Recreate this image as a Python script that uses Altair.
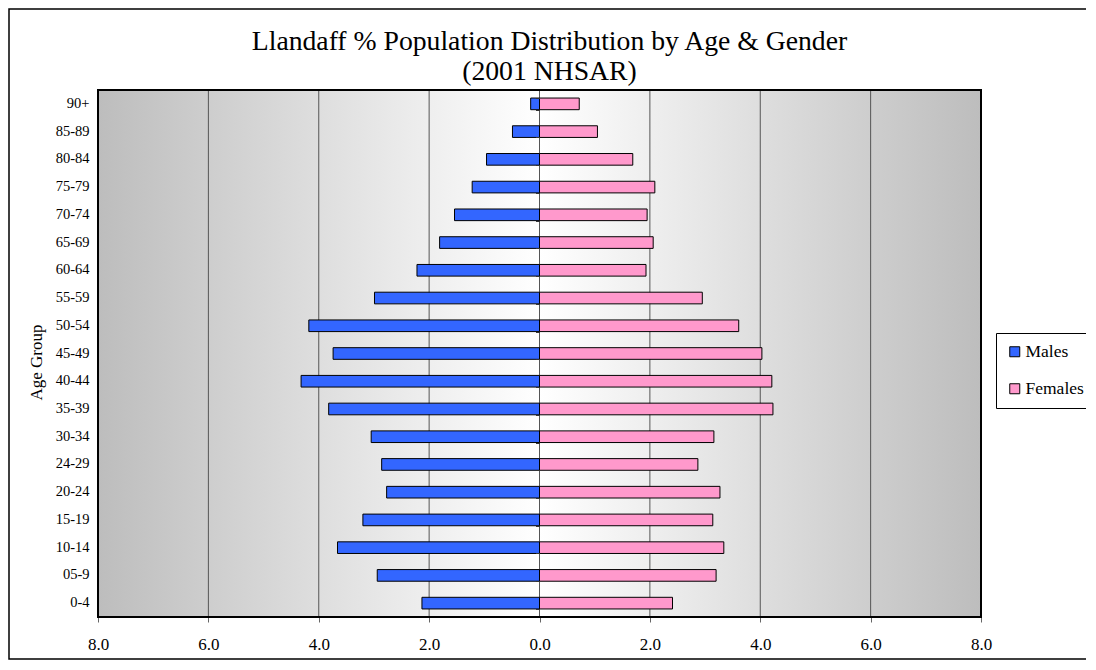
import altair as alt
import pandas as pd

# ---- data ----
age_groups = ["0-4", "05-9", "10-14", "15-19", "20-24", "24-29", "30-34", "35-39",
              "40-44", "45-49", "50-54", "55-59", "60-64", "65-69", "70-74", "75-79",
              "80-84", "85-89", "90+"]
males = [2.13, 2.94, 3.66, 3.20, 2.77, 2.86, 3.05, 3.82, 4.32, 3.74,
         4.18, 2.99, 2.22, 1.81, 1.54, 1.22, 0.96, 0.49, 0.16]
females = [2.41, 3.20, 3.34, 3.14, 3.27, 2.87, 3.16, 4.23, 4.21, 4.03,
           3.61, 2.95, 1.93, 2.06, 1.95, 2.09, 1.69, 1.05, 0.72]
series = ["Males", "Females"]
series_colors = ["#3366ff", "#ff99cc"]
x_ticks = [-8, -6, -4, -2, 0, 2, 4, 6, 8]
grid_values = [-6, -4, -2, 0, 2, 4, 6]
title_line1 = "Llandaff % Population Distribution by Age & Gender"
title_line2 = "(2001 NHSAR)"

FONT = "Liberation Serif"
W, H = 883, 527

rows = []
for a, m, f in zip(age_groups, males, females):
    rows.append({"age": a, "sex": "Males", "value": -m})
    rows.append({"age": a, "sex": "Females", "value": f})
df = pd.DataFrame(rows)
one = pd.DataFrame({"k": [0]})
grid_df = pd.DataFrame({"value": grid_values})

x_scale = alt.Scale(domain=[-8, 8], nice=False, zero=False)
y_scale = alt.Scale(domain=list(reversed(age_groups)), paddingInner=0.58, paddingOuter=0.29)
x_axis = alt.Axis(values=x_ticks,
                  labelExpr="format(abs(datum.value), '.1f')",
                  grid=False, domain=False, tickColor="#666666",
                  tickSize=5, labelPadding=14, labelFont=FONT,
                  labelFontSize=17, labelColor="black", title=None,
                  labelFlush=False, labelOverlap=False)

# gradient background of the plot area
bg = alt.Chart(one).mark_rect(
    fill=alt.LinearGradient(
        gradient="linear",
        stops=[alt.GradientStop(color="#bdbdbd", offset=0),
               alt.GradientStop(color="#ffffff", offset=0.5),
               alt.GradientStop(color="#bdbdbd", offset=1)],
        x1=0, x2=1, y1=0, y2=0),
    strokeWidth=0,
).encode(x=alt.value(0), x2=alt.value(W), y=alt.value(0), y2=alt.value(H))

grid = alt.Chart(grid_df).mark_rule(color="#555555", strokeWidth=1).encode(
    x=alt.X("value:Q", scale=x_scale, axis=x_axis)
)

bars = alt.Chart(df).mark_bar(stroke="black", strokeWidth=1).encode(
    x=alt.X("value:Q", scale=x_scale, axis=x_axis),
    y=alt.Y("age:N", scale=y_scale, sort=list(reversed(age_groups)),
            axis=alt.Axis(title="Age Group", ticks=False, tickSize=0, domain=False,
                          labelPadding=9, labelFont=FONT, labelFontSize=14.5,
                          labelColor="black", titleFont=FONT, titleFontSize=17,
                          titleFontWeight="normal", titleColor="black",
                          titleAngle=270, titleAlign="center", titleBaseline="middle",
                          titleX=-62, titleY=272)),
    color=alt.Color("sex:N", scale=alt.Scale(domain=series, range=series_colors),
                    legend=alt.Legend(orient="none", legendX=898, legendY=243,
                                      title=None, symbolType="square", symbolSize=100,
                                      symbolStrokeColor="black", symbolStrokeWidth=1,
                                      labelFont=FONT, labelFontSize=17.5,
                                      labelColor="black", padding=10,
                                      strokeColor="black", fillColor="white",
                                      rowPadding=18, symbolOffset=0, labelOffset=2)),
)

ticks_axis = alt.Chart(df).mark_bar(opacity=0).encode(
    x=alt.X("value:Q", scale=x_scale, axis=x_axis),
    y=alt.Y("age:N", scale=y_scale, sort=list(reversed(age_groups)),
            axis=alt.Axis(orient="left", offset=-441.5, labels=False, domain=False,
                          ticks=True, tickSize=4, tickColor="#333333",
                          tickBand="extent", title=None, grid=False, zindex=1)),
)

border = alt.Chart(one).mark_rect(fillOpacity=0, stroke="black", strokeWidth=2).encode(
    x=alt.value(0), x2=alt.value(W), y=alt.value(0), y2=alt.value(H)
)

frame = alt.Chart(one).mark_rect(fillOpacity=0, stroke="black", strokeWidth=1.5).encode(
    x=alt.value(-89), x2=alt.value(1000), y=alt.value(-81), y2=alt.value(569)
)

t1 = alt.Chart(one).mark_text(text=title_line1, font=FONT, fontSize=27.7, color="black",
                              align="center", baseline="alphabetic").encode(
    x=alt.value(W / 2 + 10), y=alt.value(-40))
t2 = alt.Chart(one).mark_text(text=title_line2, font=FONT, fontSize=27.7, color="black",
                              align="center", baseline="alphabetic").encode(
    x=alt.value(W / 2 + 10), y=alt.value(-10))

chart = alt.layer(bg, grid, bars, ticks_axis, border, frame, t1, t2).resolve_axis(
    y="independent"
).properties(
    width=W, height=H,
    autosize=alt.AutoSizeParams(type="none"),
    padding={"left": 90, "top": 82, "right": 105, "bottom": 43},
).configure_view(stroke=None)

chart.save("out.html", embed_options={"renderer": "svg", "actions": False})
